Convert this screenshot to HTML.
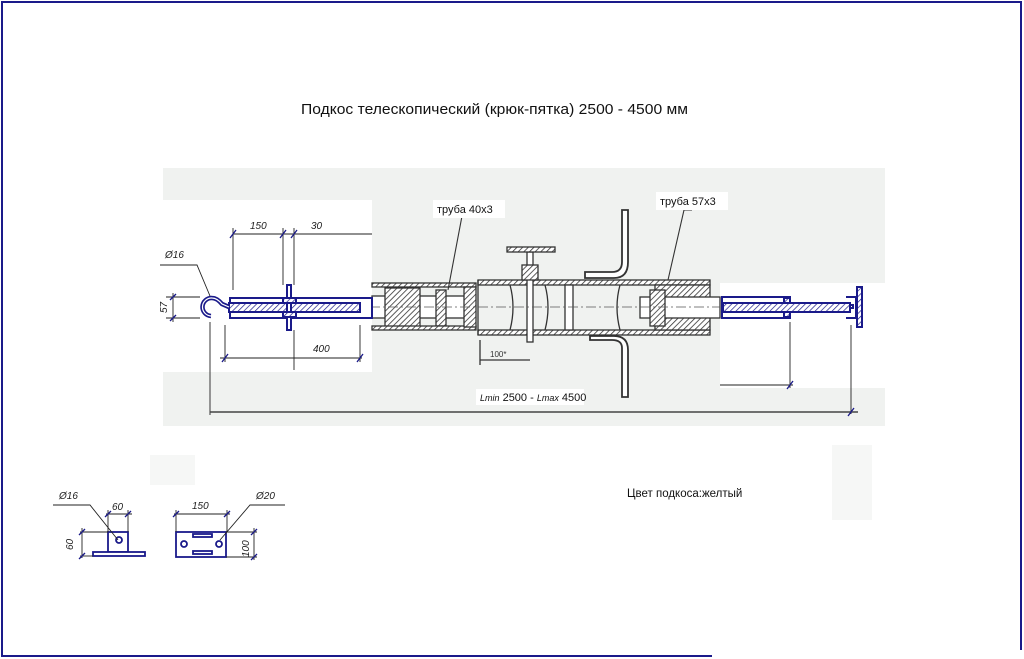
<!DOCTYPE html>
<html><head><meta charset="utf-8"><style>
html,body{margin:0;padding:0;background:#fff;width:1024px;height:659px;overflow:hidden}
svg{display:block}
text{font-family:"Liberation Sans","DejaVu Sans",sans-serif}
</style></head><body>
<svg width="1024" height="659" viewBox="0 0 1024 659" xmlns="http://www.w3.org/2000/svg">
<defs>
<pattern id="h" width="4" height="4" patternUnits="userSpaceOnUse" patternTransform="rotate(45)">
<rect width="4" height="4" fill="#fff"/><line x1="0" y1="0" x2="0" y2="4" stroke="#333" stroke-width="1.6"/></pattern>
<pattern id="hb" width="4" height="4" patternUnits="userSpaceOnUse" patternTransform="rotate(45)">
<rect width="4" height="4" fill="#fff"/><line x1="0" y1="0" x2="0" y2="4" stroke="#1a1a8a" stroke-width="1.4"/></pattern>
</defs>
<g stroke="#1a1a8a" stroke-width="2" fill="none">
<line x1="1" y1="2" x2="1022" y2="2"/><line x1="2" y1="2" x2="2" y2="657"/>
<line x1="1021" y1="2" x2="1021" y2="650"/><line x1="2" y1="656" x2="712" y2="656"/>
</g>
<text x="301" y="114" font-size="14.5" textLength="387" lengthAdjust="spacingAndGlyphs" fill="#111">Подкос телескопический (крюк-пятка) 2500 - 4500 мм</text>

<rect x="163" y="168" width="722" height="258" fill="#f0f2f0"/>
<rect x="160" y="200" width="212" height="172" fill="#fff"/>
<rect x="720" y="283" width="165" height="105" fill="#fff"/>
<rect x="150" y="455" width="45" height="30" fill="#f6f7f6"/>
<rect x="832" y="445" width="40" height="75" fill="#f6f7f6"/>

<g stroke="#333" stroke-width="1.3" fill="none">
<rect x="372" y="296" width="100" height="22" fill="#fff"/>
<rect x="385" y="288" width="35" height="40" fill="url(#h)"/>
<rect x="436" y="290" width="10" height="36" fill="url(#h)"/>
<rect x="372" y="283" width="104" height="4" fill="url(#h)"/>
<rect x="372" y="326" width="104" height="4" fill="url(#h)"/>
<rect x="478" y="280" width="232" height="5" fill="url(#h)"/>
<rect x="478" y="330" width="232" height="5" fill="url(#h)"/>
<line x1="478" y1="280" x2="478" y2="335"/>
<rect x="464" y="287" width="12" height="40" fill="url(#h)"/>
<path d="M510 285 Q516 307 510 330 M545 285 Q551 307 545 330 M620 285 Q614 307 620 330"/>
<rect x="565" y="285" width="8" height="45" fill="#fff"/>
<rect x="527" y="252" width="6" height="90" fill="#fff"/>
<rect x="507" y="247" width="48" height="5" fill="url(#h)"/>
<rect x="522" y="265" width="16" height="15" fill="url(#h)"/>
<path d="M622 210 L622 262 Q622 272 612 272 L585 272 L585 278 L614 278 Q628 278 628 262 L628 210 Z" fill="#fff" stroke-width="1.8"/>
<path d="M622 397 L622 348 Q622 340 612 340 L590 340 L590 336 L614 336 Q628 336 628 350 L628 397 Z" fill="#fff" stroke-width="1.8"/>
<rect x="655" y="285" width="55" height="45" fill="url(#h)"/>
<rect x="640" y="297" width="80" height="21" fill="#fff"/>
<rect x="650" y="290" width="15" height="36" fill="url(#h)"/>
<line x1="480" y1="360" x2="530" y2="360"/><line x1="480" y1="340" x2="480" y2="365"/>
</g>
<line x1="370" y1="307" x2="720" y2="307" stroke="#555" stroke-dasharray="10,3,2,3" stroke-width="0.8"/>
<text x="490" y="357" font-size="8" fill="#333">100*</text>
<g stroke="#333" stroke-width="1.1" fill="none">
<path d="M470 216 L462 216 L448 290"/><path d="M692 210 L684 210 L668 280"/>
</g>
<rect x="433" y="200" width="72" height="18" fill="#fff"/>
<text x="437" y="213" font-size="11" fill="#111">труба 40x3</text>
<rect x="656" y="192" width="72" height="18" fill="#fff"/>
<text x="660" y="205" font-size="11" fill="#111">труба 57x3</text>

<g stroke="#1a1a8a" stroke-width="2" fill="none">
<rect x="230" y="298" width="142" height="20" fill="#fff"/>
<rect x="229" y="303" width="131" height="9" fill="url(#hb)"/>
<rect x="287" y="285" width="4" height="45" fill="#fff"/>
<rect x="283" y="298" width="13" height="5" fill="url(#hb)"/>
<rect x="283" y="312" width="13" height="5" fill="url(#hb)"/>
</g>
<path d="M229 307 L222 304 Q217 298 212 298 A8 8 0 0 0 211 316" stroke="#1a1a8a" stroke-width="4.5" fill="none"/>
<path d="M229 307 L222 304 Q217 298 212 298 A8 8 0 0 0 211 316" stroke="#fff" stroke-width="1.2" fill="none"/>
<g stroke="#222" stroke-width="0.9" fill="none">
<line x1="233" y1="234" x2="372" y2="234"/>
<line x1="233" y1="228" x2="233" y2="290"/><line x1="283" y1="228" x2="283" y2="285"/><line x1="294" y1="228" x2="294" y2="285"/>
<line x1="166" y1="297" x2="200" y2="297"/><line x1="166" y1="318" x2="200" y2="318"/>
<line x1="173" y1="293" x2="173" y2="322"/>
<line x1="220" y1="358" x2="362" y2="358"/>
<line x1="225" y1="325" x2="225" y2="362"/><line x1="360" y1="325" x2="360" y2="362"/><line x1="294" y1="330" x2="294" y2="370"/>
<path d="M160 265 L197 265 L210 296"/>
<line x1="210" y1="322" x2="210" y2="415"/>
<line x1="210" y1="412" x2="858" y2="412" stroke="#444" stroke-width="1.5"/>
<line x1="790" y1="322" x2="790" y2="388"/><line x1="720" y1="385" x2="793" y2="385"/>
<line x1="851" y1="325" x2="851" y2="414"/>
</g>
<g stroke="#1a1a8a" stroke-width="1.3">
<line x1="230" y1="238" x2="236" y2="230"/><line x1="280" y1="238" x2="286" y2="230"/><line x1="291" y1="238" x2="297" y2="230"/>
<line x1="170" y1="300" x2="176" y2="294"/><line x1="170" y1="321" x2="176" y2="315"/>
<line x1="222" y1="362" x2="228" y2="354"/><line x1="357" y1="362" x2="363" y2="354"/>
<line x1="787" y1="389" x2="793" y2="381"/><line x1="848" y1="416" x2="854" y2="408"/>
</g>
<g font-size="10" font-style="italic" fill="#222">
<text x="250" y="229">150</text><text x="311" y="229">30</text><text x="165" y="258">Ø16</text>
<text x="313" y="352">400</text>
<text transform="translate(167,313) rotate(-90)">57</text>
</g>
<rect x="476" y="389" width="108" height="16" fill="#fff"/>
<text x="480" y="401" font-size="11" fill="#111"><tspan font-style="italic" font-size="9">Lmin</tspan> 2500 - <tspan font-style="italic" font-size="9">Lmax</tspan> 4500</text>

<g stroke="#1a1a8a" stroke-width="2" fill="none">
<rect x="722" y="297" width="68" height="21" fill="#fff"/>
<rect x="723" y="303" width="127" height="9" fill="url(#hb)"/>
<rect x="784" y="298" width="6" height="5" fill="url(#hb)"/><rect x="784" y="312" width="6" height="5" fill="url(#hb)"/>
<path d="M846 297 L856 297 L856 318 L846 318"/>
<rect x="857" y="287" width="5" height="40" fill="url(#hb)"/>
<rect x="850" y="305" width="3" height="3"/>
</g>

<text x="627" y="497" font-size="11.5" fill="#111">Цвет подкоса:желтый</text>

<g stroke="#1a1a8a" stroke-width="1.8" fill="#fff">
<rect x="108" y="532" width="20" height="20"/><rect x="93" y="552" width="52" height="4"/>
<circle cx="119" cy="540" r="3"/>
<rect x="176" y="532" width="50" height="25"/>
<rect x="193" y="534" width="19" height="3"/><rect x="193" y="551" width="19" height="3"/>
<circle cx="184" cy="544" r="3"/><circle cx="219" cy="544" r="3"/>
</g>
<g stroke="#222" stroke-width="0.9" fill="none">
<line x1="106" y1="514" x2="132" y2="514"/><line x1="108" y1="510" x2="108" y2="532"/><line x1="128" y1="510" x2="128" y2="532"/>
<line x1="80" y1="532" x2="108" y2="532"/><line x1="80" y1="556" x2="93" y2="556"/><line x1="82" y1="528" x2="82" y2="558"/>
<path d="M53 505 L90 505 L118 540"/>
<line x1="174" y1="514" x2="230" y2="514"/><line x1="176" y1="510" x2="176" y2="532"/><line x1="227" y1="510" x2="227" y2="532"/>
<line x1="226" y1="532" x2="257" y2="532"/><line x1="226" y1="557" x2="257" y2="557"/><line x1="254" y1="528" x2="254" y2="560"/>
<path d="M285 505 L250 505 L220 540"/>
</g>
<g stroke="#1a1a8a" stroke-width="1.3">
<line x1="105" y1="517" x2="111" y2="511"/><line x1="125" y1="517" x2="131" y2="511"/>
<line x1="79" y1="535" x2="85" y2="529"/><line x1="79" y1="559" x2="85" y2="553"/>
<line x1="173" y1="517" x2="179" y2="511"/><line x1="224" y1="517" x2="230" y2="511"/>
<line x1="251" y1="535" x2="257" y2="529"/><line x1="251" y1="560" x2="257" y2="554"/>
</g>
<g font-size="10" font-style="italic" fill="#222">
<text x="59" y="499">Ø16</text><text x="112" y="510">60</text>
<text transform="translate(73,550) rotate(-90)">60</text>
<text x="192" y="509">150</text><text x="256" y="499">Ø20</text>
<text transform="translate(249,557) rotate(-90)">100</text>
</g>
</svg>
</body></html>
